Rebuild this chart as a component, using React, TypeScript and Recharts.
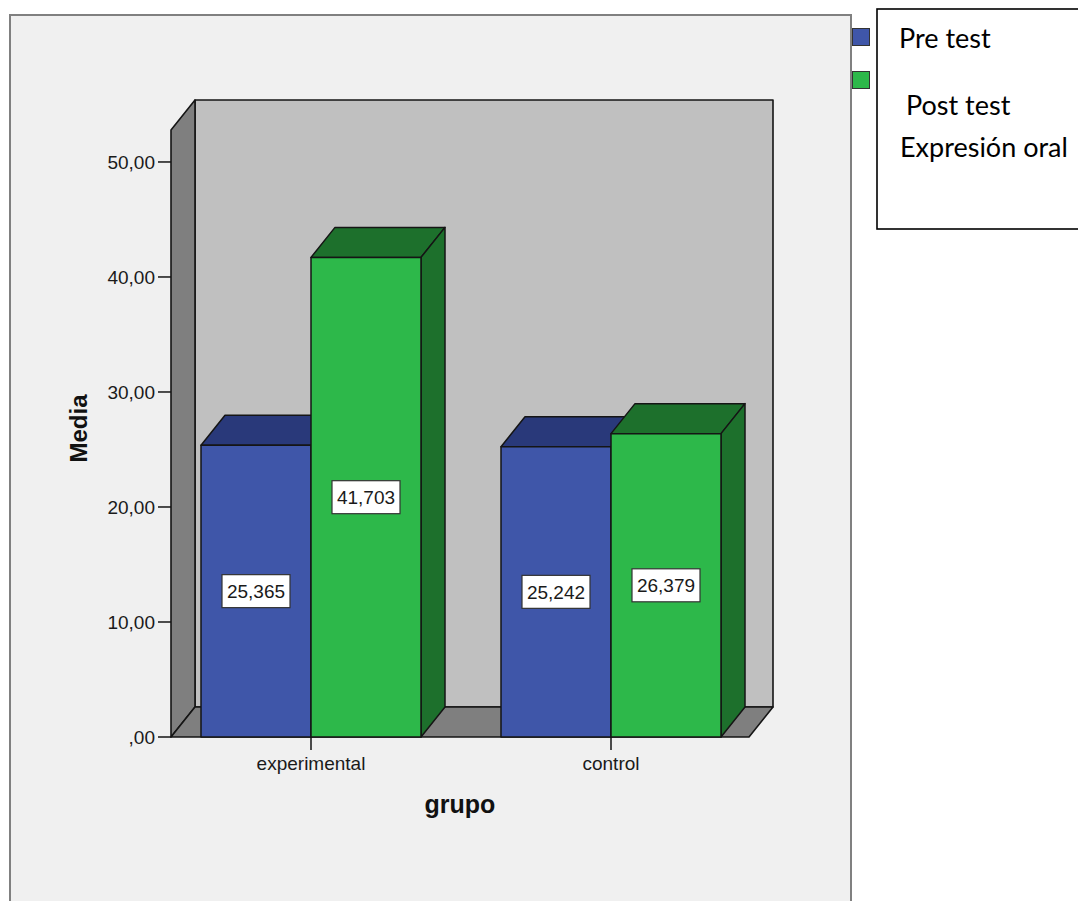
import React from 'react';
import { BarChart, Bar, XAxis, YAxis, ReferenceArea, LabelList } from 'recharts';

const groups = ['experimental', 'control'];
const preTest = [25.365, 25.242];
const postTest = [41.703, 26.379];
const yTicks = [0, 10, 20, 30, 40, 50];
const seriesNames = ['Pre test', 'Post test'];
const measureName = 'Expresión oral';

const data = groups.map((g, i) => ({ grupo: g, pre: preTest[i], post: postTest[i] }));

// extrusion used for the pseudo-3D boxes and walls
const DX = 24;
const DY = -30;
const Y_MAX = 52.78;
// the category bands reach a little past the floor on both sides
const PAD_L = 10;
const PAD_R = 12;
const FONT = '"Liberation Sans", Arial, sans-serif';

const COLORS = {
  pre: { front: '#3f56a9', dark: '#29397a' },
  post: { front: '#2db84a', dark: '#1d702c' },
};

const fmt = (v: number, digits: number) => {
  const s = v.toFixed(digits).replace('.', ',');
  return s.startsWith('0,') ? s.slice(1) : s;
};

const Walls = (props: any) => {
  const { x, y, width, height } = props;
  const l = x + PAD_L;
  const r = x + width - PAD_R;
  const t = y;
  const b = y + height;
  return (
    <g stroke="#151515" strokeWidth={1.6} strokeLinejoin="round">
      <rect x={l + DX} y={t + DY} width={r - l} height={b - t} fill="#c0c0c0" />
      <polygon points={`${l},${t} ${l + DX},${t + DY} ${l + DX},${b + DY} ${l},${b}`} fill="#7f7f7f" />
      <polygon points={`${l},${b} ${l + DX},${b + DY} ${r + DX},${b + DY} ${r},${b}`} fill="#7f7f7f" />
    </g>
  );
};

const box3d = (front: string, dark: string) => (props: any) => {
  const { x, y, width: w, height: h } = props;
  if (!h || h <= 0) return null;
  return (
    <g stroke="#151515" strokeWidth={1.5} strokeLinejoin="round">
      <polygon points={`${x},${y} ${x + DX},${y + DY} ${x + w + DX},${y + DY} ${x + w},${y}`} fill={dark} />
      <polygon points={`${x + w},${y} ${x + w + DX},${y + DY} ${x + w + DX},${y + h + DY} ${x + w},${y + h}`} fill={dark} />
      <rect x={x} y={y} width={w} height={h} fill={front} />
    </g>
  );
};

const valueTag = (props: any) => {
  const { x, y, width, height, value } = props;
  const cx = x + width / 2;
  const cy = y + height / 2;
  return (
    <g>
      <rect x={cx - 34} y={cy - 16.5} width={68} height={33} fill="#fff" stroke="#333" strokeWidth={1.2} />
      <text x={cx} y={cy + 7} textAnchor="middle" fontSize={19} fontFamily={FONT} fill="#1a1a1a">
        {fmt(value, 3)}
      </text>
    </g>
  );
};

const mediaLabel = (props: any) => {
  const { viewBox } = props;
  const tx = viewBox.x - 24;
  const ty = viewBox.y + viewBox.height / 2 - 5;
  return (
    <text x={tx} y={ty} transform={`rotate(-90, ${tx}, ${ty})`} textAnchor="middle"
      fontSize={24} fontWeight="bold" fontFamily={FONT} fill="#111">
      Media
    </text>
  );
};

const grupoLabel = (props: any) => {
  const { viewBox } = props;
  return (
    <text x={viewBox.x + viewBox.width / 2} y={viewBox.y + 76} textAnchor="middle"
      fontSize={25} fontWeight="bold" fontFamily={FONT} fill="#111">
      grupo
    </text>
  );
};

const tickStyle = { fontSize: 19, fill: '#1a1a1a', fontFamily: FONT };

export default function App() {
  const legendColors = [COLORS.pre.front, COLORS.post.front];
  return (
    <div style={{ position: 'absolute', left: 0, top: 0, width: 1078, height: 901, overflow: 'hidden', background: '#fff' }}>
      <div style={{
        position: 'absolute', left: 9, top: 14, width: 843, height: 900,
        border: '2px solid #808080', background: '#f0f0f0', boxSizing: 'border-box',
      }} />
      <div style={{ position: 'absolute', left: 0, top: 0 }}>
        <BarChart width={1078} height={901} data={data} barGap={0}
          margin={{ top: 130, right: 329, bottom: 124, left: 111 }}>
          <ReferenceArea y1={0} y2={Y_MAX} shape={<Walls />} ifOverflow="visible" />
          <XAxis dataKey="grupo" padding={{ left: -PAD_L, right: -PAD_R }} height={40}
            axisLine={false} tickLine={{ stroke: '#151515', strokeWidth: 1.5 }} tickSize={13} tickMargin={7}
            tick={tickStyle} label={{ content: grupoLabel }} />
          <YAxis type="number" domain={[0, Y_MAX]} ticks={yTicks} tickFormatter={(v: number) => fmt(v, 2)}
            width={60} axisLine={false} tickLine={{ stroke: '#151515', strokeWidth: 1.5 }} tickSize={13} tickMargin={3}
            tick={tickStyle} label={{ content: mediaLabel }} />
          <Bar dataKey="pre" name={seriesNames[0]} barSize={110} isAnimationActive={false}
            shape={box3d(COLORS.pre.front, COLORS.pre.dark)}>
            <LabelList dataKey="pre" content={valueTag} />
          </Bar>
          <Bar dataKey="post" name={seriesNames[1]} barSize={110} isAnimationActive={false}
            shape={box3d(COLORS.post.front, COLORS.post.dark)}>
            <LabelList dataKey="post" content={valueTag} />
          </Bar>
        </BarChart>
      </div>
      <svg width={1078} height={240} style={{ position: 'absolute', left: 0, top: 0 }}>
        {legendColors.map((c, i) => (
          <rect key={c} x={852.5} y={28.5 + i * 43} width={17} height={17} fill={c} stroke="#333" strokeWidth={1} />
        ))}
        <rect x={877} y={9} width={260} height={220} fill="#fff" stroke="#000" strokeWidth={1.6} />
        <g fontFamily="Lato, 'Open Sans', sans-serif" fontSize={27} fill="#000">
          <text x={899} y={48}>{seriesNames[0]}</text>
          <text x={906} y={115}>{seriesNames[1]}</text>
          <text x={900} y={157}>{measureName}</text>
        </g>
      </svg>
    </div>
  );
}
